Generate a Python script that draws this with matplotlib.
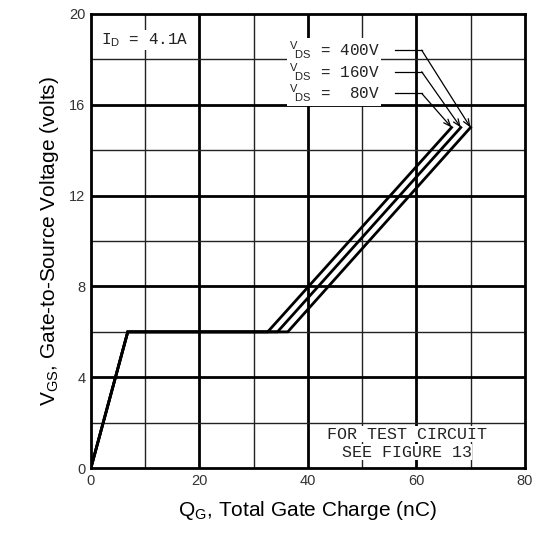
import matplotlib.pyplot as plt

plt.rcParams['font.family'] = ['Liberation Sans', 'DejaVu Sans']
plt.rcParams['mathtext.fontset'] = 'custom'
plt.rcParams['mathtext.rm'] = 'Liberation Sans'

# gate charge curves
vds_labels = ["400V", "160V", "80V"]
q_400 = [0, 6.8, 36.3, 70.0]
v_400 = [0, 6.0, 6.0, 15.0]
q_160 = [0, 6.8, 34.4, 68.2]
v_160 = [0, 6.0, 6.0, 15.0]
q_80 = [0, 6.8, 32.6, 66.5]
v_80 = [0, 6.0, 6.0, 15.0]

x_major = [20, 40, 60]
x_minor = [10, 30, 50, 70]
y_major = [4, 8, 12, 16]
y_minor = [2, 6, 10, 14, 18]

fig = plt.figure(figsize=(5.41, 5.35), dpi=100)
ax = fig.add_axes([0.168, 0.125, 0.802, 0.849])
ax.set_xlim(0, 80)
ax.set_ylim(0, 20)

for x in x_major:
    ax.axvline(x, color="black", lw=2.0, zorder=1)
for x in x_minor:
    ax.axvline(x, color="#222222", lw=1.0, zorder=1)
for y in y_major:
    ax.axhline(y, color="black", lw=2.0, zorder=1)
for y in y_minor:
    ax.axhline(y, color="#222222", lw=1.0, zorder=1)

curves = [(q_400, v_400), (q_160, v_160), (q_80, v_80)]
for q, v in curves:
    ax.plot(q, v, color="black", lw=2.0, solid_joinstyle="miter", zorder=3)

mono = "Liberation Mono"
# V_DS labels with leader arrows
label_y = [18.4, 17.45, 16.5]
for (q, v), lab, ly in zip(curves, vds_labels, label_y):
    ax.text(53.2, ly, r"$^{\mathrm{V}}\!_{\mathrm{DS}}$" + " = " + lab.rjust(4),
            ha="right", va="center", fontsize=11.5, family=mono, color="#222222",
            bbox=dict(facecolor="white", edgecolor="none", pad=1.0), zorder=4)
    ax.plot([56, 61], [ly, ly], color="black", lw=0.9, zorder=4)
    ax.annotate("", xy=(q[-1], v[-1]), xytext=(61, ly),
                arrowprops=dict(arrowstyle="->,head_length=0.5,head_width=0.2",
                                color="black", lw=0.9, shrinkA=0, shrinkB=0),
                zorder=4)

ax.text(1.8, 18.85, r"I$_\mathrm{D}$ = 4.1A", fontsize=11.5, family=mono, color="#222222",
        ha="left", va="center", bbox=dict(facecolor="white", edgecolor="none", pad=1.0))
ax.text(58.2, 1.5, "FOR TEST CIRCUIT", fontsize=12, family=mono, ha="center", va="center",
        color="#222222", bbox=dict(facecolor="white", edgecolor="none", pad=0.5), zorder=4)
ax.text(58.2, 0.7, "SEE FIGURE 13", fontsize=12, family=mono, ha="center", va="center",
        color="#222222", bbox=dict(facecolor="white", edgecolor="none", pad=0.5), zorder=4)

ax.set_xticks([0, 20, 40, 60, 80])
ax.set_yticks([0, 4, 8, 12, 16, 20])
ax.tick_params(length=0, labelsize=10.5, pad=4, colors="#333333")
for s in ax.spines.values():
    s.set_linewidth(2.0)

ax.set_xlabel(r"Q$_\mathrm{G}$, Total Gate Charge (nC)", fontsize=15, labelpad=8)
ax.set_ylabel(r"V$_\mathrm{GS}$, Gate-to-Source Voltage (volts)", fontsize=15, labelpad=6)

fig.savefig("out.png", dpi=100)
